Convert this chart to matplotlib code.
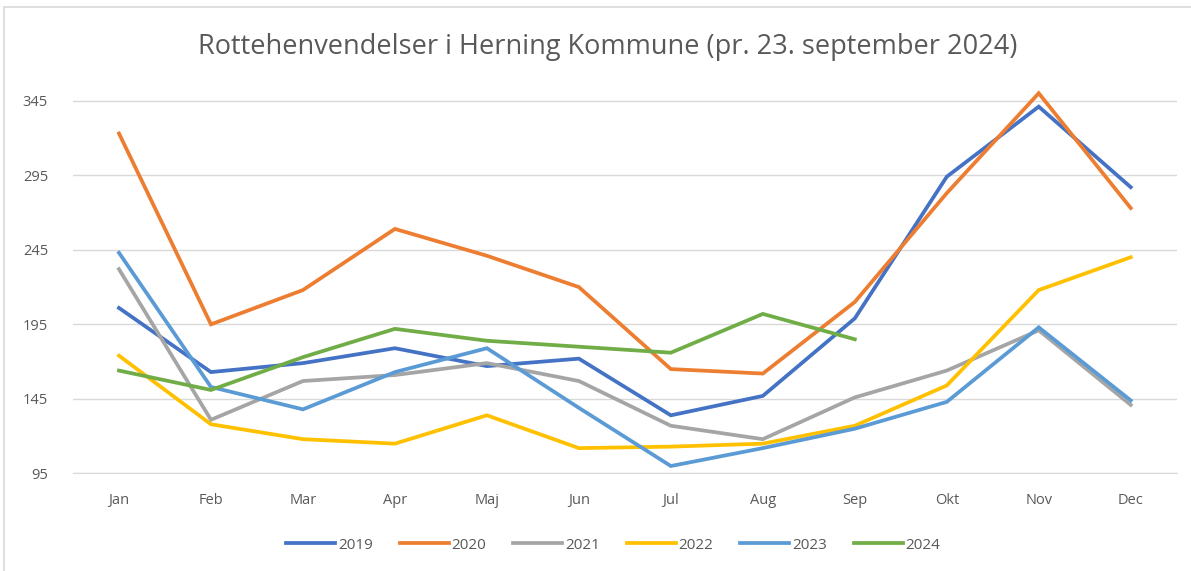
import matplotlib
matplotlib.use("Agg")
import matplotlib.pyplot as plt
from matplotlib.patches import Rectangle

months = ["Jan", "Feb", "Mar", "Apr", "Maj", "Jun", "Jul", "Aug", "Sep", "Okt", "Nov", "Dec"]
y2019 = [206, 163, 169, 179, 167, 172, 134, 147, 199, 294, 341, 287]
y2020 = [323, 195, 218, 259, 241, 220, 165, 162, 210, 283, 350, 273]
y2021 = [232, 131, 157, 161, 169, 157, 127, 118, 146, 164, 191, 141]
y2022 = [174, 128, 118, 115, 134, 112, 113, 115, 127, 154, 218, 240]
y2023 = [243, 153, 138, 163, 179, 139, 100, 112, 125, 143, 193, 144]
y2024 = [164, 151, 173, 192, 184, 180, 176, 202, 185]
series = [("2019", y2019, "#4472C4"), ("2020", y2020, "#ED7D31"), ("2021", y2021, "#A5A5A5"),
          ("2022", y2022, "#FFC000"), ("2023", y2023, "#5B9BD5"), ("2024", y2024, "#70AD47")]
yticks = [95, 145, 195, 245, 295, 345]

plt.rcParams['font.family'] = ['Open Sans', 'DejaVu Sans']
fig = plt.figure(figsize=(11.91, 5.71), dpi=100)
ax = fig.add_axes([0.0613, 0.1708, 0.9267, 0.679])

for name, vals, col in series:
    ax.plot(range(len(vals)), vals, color=col, lw=2.7, label=name, solid_joinstyle='miter')

ax.set_xlim(-0.5, 11.5)
ax.set_ylim(95, 355)
ax.set_yticks(yticks)
ax.set_xticks(range(12))
ax.set_xticklabels(months)
ax.grid(axis='y', color='#D9D9D9', lw=1)
ax.set_axisbelow(True)
for s in ['top', 'right', 'left']:
    ax.spines[s].set_visible(False)
ax.spines['bottom'].set_color('#D9D9D9')
ax.tick_params(axis='both', length=0, labelsize=10.5, colors='#595959')
ax.tick_params(axis='x', pad=14)
ax.tick_params(axis='y', pad=18)

fig.text(0.51, 0.918, "Rottehenvendelser i Herning Kommune (pr. 23. september 2024)",
         ha='center', va='center', fontsize=19.5, color='#595959')

leg = fig.legend(loc='center', bbox_to_anchor=(0.515, 0.045), ncol=6, frameon=False,
                 fontsize=11, handlelength=3.2, handletextpad=0.2, columnspacing=1.75)
for t in leg.get_texts():
    t.set_color('#595959')

fig.patches.append(Rectangle((0.003, -0.01), 1.0, 0.997, transform=fig.transFigure,
                             fill=False, edgecolor='#D9D9D9', lw=1.2))

fig.savefig("out.png", dpi=100, facecolor='white')
